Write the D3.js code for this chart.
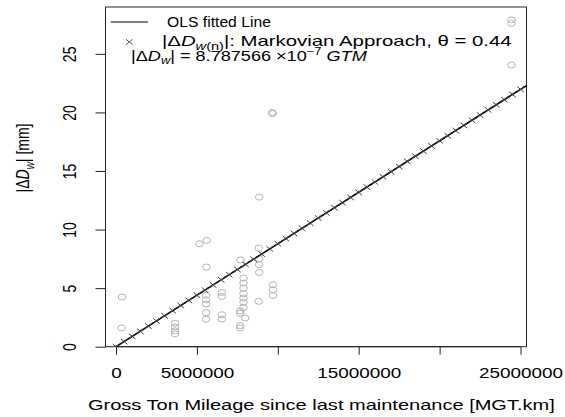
<!DOCTYPE html>
<html>
<head>
<meta charset="utf-8">
<script src="https://cdn.jsdelivr.net/npm/d3@7"></script>
<style>
  body { margin: 0; background: #fff; }
  svg { display: block; font-family: "Liberation Sans", Arial, Helvetica, sans-serif; }
</style>
</head>
<body>
<svg id="chart" width="565" height="417"></svg>
<script>
// scatter of observed |dDw| (x in million GTM.km, y in mm)
const obsX = [0.37, 0.35, 3.65, 3.65, 3.65, 3.65, 5.15, 5.61, 5.59, 5.57, 5.57, 5.57, 5.57, 5.57,
  6.54, 6.54, 6.54, 6.54, 7.69, 7.88, 7.88, 7.88, 7.88, 7.88, 7.88, 7.88, 7.67, 7.67, 7.98, 7.67, 7.67,
  8.82, 8.85, 8.85, 8.85, 8.82, 9.70, 9.70, 9.70, 8.85, 9.65, 9.68, 24.44, 24.44, 24.44];
const obsY = [4.24, 1.60, 2.00, 1.68, 1.35, 1.10, 8.79, 9.07, 6.80, 4.40, 4.00, 3.65, 2.90, 2.35,
  4.63, 4.29, 2.73, 2.36, 7.40, 5.86, 5.43, 5.00, 4.52, 4.15, 3.78, 3.35, 3.05, 2.85, 2.45, 1.80, 1.60,
  8.42, 7.50, 7.00, 6.34, 3.87, 5.29, 4.86, 4.38, 12.77, 20.0, 19.9, 27.9, 27.6, 24.04];

// Markovian approach points
const markX = [0, 0.5, 1, 1.5, 2, 2.5, 3, 3.5, 4, 4.5, 5, 5.5, 6, 6.5, 7, 7.5, 8, 8.5, 9, 9.5,
  10, 10.5, 11, 11.5, 12, 12.5, 13, 13.5, 14, 14.5, 15, 15.5, 16, 16.5, 17, 17.5, 18, 18.5, 19, 19.5,
  20, 20.5, 21, 21.5, 22, 22.5, 23, 23.5, 24, 24.5, 25];
const markY = [0, 0.44, 0.88, 1.32, 1.76, 2.20, 2.64, 3.08, 3.52, 3.95, 4.39, 4.83, 5.27, 5.71, 6.15,
  6.59, 7.03, 7.47, 7.91, 8.35, 8.79, 9.23, 9.67, 10.11, 10.55, 10.98, 11.42, 11.86, 12.30, 12.74,
  13.18, 13.62, 14.06, 14.50, 14.94, 15.38, 15.82, 16.26, 16.70, 17.14, 17.58, 18.01, 18.45, 18.89,
  19.33, 19.77, 20.21, 20.65, 21.09, 21.53, 21.97];

const slope = 8.787566e-7;
const theta = 0.44;

const xTicks = [0, 5000000, 10000000, 15000000, 20000000, 25000000];
const xTickLabels = ["0", "5000000", "", "15000000", "", "25000000"];
const yTicks = [0, 5, 10, 15, 20, 25];

const SX = 1.35; // picture is stretched sideways

const svg = d3.select("#chart");
const box = { left: 105.5, right: 526.5, top: 7, bottom: 346.7 };

const x = d3.scaleLinear().domain([-650000, 25370000]).range([box.left, box.right]);
const y = d3.scaleLinear().domain([0, 29]).range([box.bottom, box.top]);

svg.append("clipPath").attr("id", "plotclip")
  .append("rect")
  .attr("x", box.left).attr("y", box.top)
  .attr("width", box.right - box.left).attr("height", box.bottom - box.top);

// x axis
const gx = svg.append("g")
  .attr("transform", "translate(0," + box.bottom + ")")
  .call(d3.axisBottom(x).tickValues(xTicks).tickSize(8).tickFormat((d, i) => xTickLabels[i]));
gx.select(".domain").attr("d", "M" + x(0) + ",0H" + x(25000000));
gx.selectAll("text")
  .attr("y", 0).attr("dy", 0)
  .attr("transform", "translate(0,31) scale(" + SX + ",1)")
  .style("font-size", "14px").attr("fill", "#000");

// y axis
const gy = svg.append("g")
  .attr("transform", "translate(" + box.left + ",0)")
  .call(d3.axisLeft(y).tickValues(yTicks).tickSize(10));
gy.select(".domain").attr("d", "M0," + y(0) + "V" + y(25));
gy.selectAll("text")
  .attr("x", 0).attr("dy", "0.35em")
  .attr("text-anchor", "middle")
  .attr("transform", "translate(-36,0) scale(" + SX + ",1) rotate(-90)")
  .style("font-size", "14px").attr("fill", "#000");
svg.selectAll(".domain, .tick line").attr("stroke", "#222");

// plot box
svg.append("rect")
  .attr("x", box.left).attr("y", box.top)
  .attr("width", box.right - box.left).attr("height", box.bottom - box.top)
  .attr("fill", "none").attr("stroke", "#222").attr("stroke-width", 1);

// observed points
svg.append("g").selectAll("ellipse")
  .data(obsX.map((v, i) => ({ gtm: v * 1e6, dw: obsY[i] })))
  .join("ellipse")
  .attr("cx", d => x(d.gtm)).attr("cy", d => y(d.dw))
  .attr("rx", 3.8).attr("ry", 3.0)
  .attr("fill", "none").attr("stroke", "#b4b4b4").attr("stroke-width", 1);

const plot = svg.append("g").attr("clip-path", "url(#plotclip)");

// OLS fitted line
plot.append("line")
  .attr("x1", x(0)).attr("y1", y(0))
  .attr("x2", x(x.domain()[1])).attr("y2", y(slope * x.domain()[1]))
  .attr("stroke", "#000").attr("stroke-width", 1.6);

// markovian markers
const crossPath = (cx, cy) => "M" + (cx - 3.3) + "," + (cy - 2.7) + "L" + (cx + 3.3) + "," + (cy + 2.7) +
  "M" + (cx - 3.3) + "," + (cy + 2.7) + "L" + (cx + 3.3) + "," + (cy - 2.7);
plot.append("g").selectAll("path")
  .data(markX.map((v, i) => ({ gtm: v * 1e6, dw: markY[i] })))
  .join("path")
  .attr("d", d => crossPath(x(d.gtm), y(d.dw)))
  .attr("stroke", "#444").attr("stroke-width", 1).attr("fill", "none");

// legend
const leg = svg.append("g");
leg.append("line").attr("x1", 110.7).attr("x2", 148).attr("y1", 22).attr("y2", 22)
  .attr("stroke", "#000").attr("stroke-width", 1);
leg.append("path").attr("d", crossPath(129.3, 42)).attr("stroke", "#555").attr("fill", "none");

// text squeezed/stretched sideways so it spans [px, px + width]
function fittedText(parent, px, py, width, anchor) {
  const t = parent.append("text").style("font-size", "14px").attr("fill", "#000");
  t.fit = function () {
    const len = t.node().getComputedTextLength();
    const sx = width / len;
    t.attr("text-anchor", anchor || "start")
      .attr("transform", "translate(" + px + "," + py + ") scale(" + sx + ",1)");
    return t;
  };
  return t;
}

fittedText(leg, 167, 27, 104).text("OLS fitted Line").fit();

const t2 = fittedText(leg, 162, 46, 350);
t2.append("tspan").text("|Δ");
t2.append("tspan").style("font-style", "italic").text("D");
t2.append("tspan").style("font-style", "italic").style("font-size", "10px").attr("dy", 3.5).text("w");
t2.append("tspan").style("font-size", "10px").text("(n)");
t2.append("tspan").attr("dy", -3.5).text("|: Markovian Approach, θ = " + theta.toFixed(2));
t2.fit();

const t3 = fittedText(leg, 131, 60.5, 236);
t3.append("tspan").text("|Δ");
t3.append("tspan").style("font-style", "italic").text("D");
t3.append("tspan").style("font-style", "italic").style("font-size", "10px").attr("dy", 3.5).text("w");
t3.append("tspan").attr("dy", -3.5).text("| = " + (slope * 1e7).toFixed(6) + " ×10");
t3.append("tspan").style("font-size", "10px").attr("dy", -6).text("−7");
t3.append("tspan").attr("dy", 6).text(" ");
t3.append("tspan").style("font-style", "italic").text("GTM");
t3.fit();

// axis titles
const xt = fittedText(svg, 88, 410, 467);
xt.text("Gross Ton Mileage since last maintenance [MGT.km]").fit();

const yl = svg.append("text")
  .attr("transform", "translate(29,158) scale(" + SX + ",1) rotate(-90)")
  .attr("text-anchor", "middle").style("font-size", "14px");
yl.append("tspan").text("|Δ");
yl.append("tspan").style("font-style", "italic").text("D");
yl.append("tspan").style("font-style", "italic").style("font-size", "10px").attr("dy", 3.5).text("w");
yl.append("tspan").attr("dy", -3.5).text("| [mm]");
</script>
</body>
</html>
